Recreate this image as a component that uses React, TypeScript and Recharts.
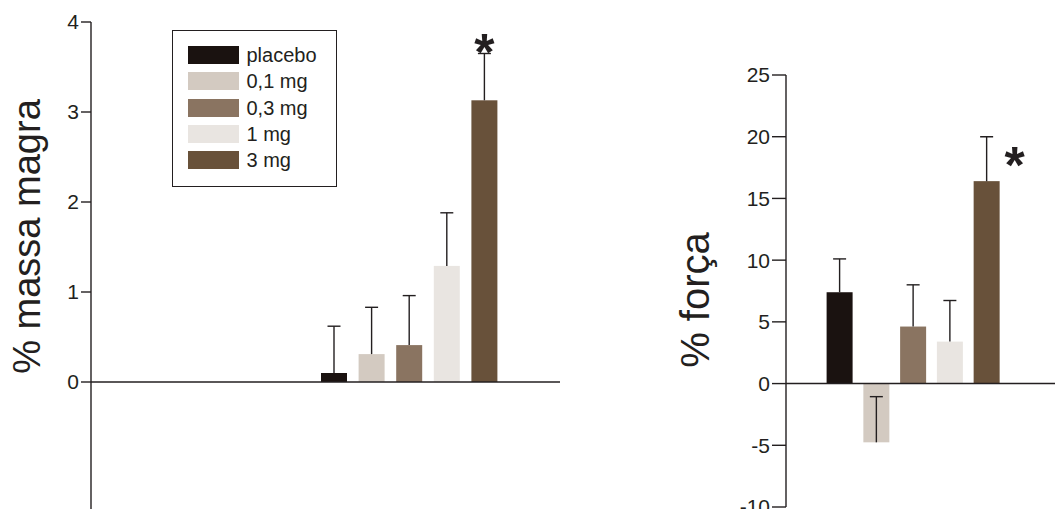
import React from 'react';
import {
  Bar,
  BarChart,
  Cell,
  Legend,
  ReferenceLine,
  XAxis,
  YAxis,
} from 'recharts';

const doses = ['placebo', '0,1 mg', '0,3 mg', '1 mg', '3 mg'];
const doseColors = ['#1a1210', '#d3cac1', '#8a7461', '#e9e5e1', '#68513a'];

// % massa magra (mean, upward error)
const leanMass = [0.1, 0.31, 0.41, 1.29, 3.13];
const leanMassErr = [0.52, 0.52, 0.55, 0.59, 0.52];
const leanTicks = [0, 1, 2, 3, 4];

// % força (mean, upward error)
const strength = [7.4, -4.76, 4.62, 3.4, 16.4];
const strengthErr = [2.7, 3.7, 3.38, 3.33, 3.6];
const strengthTicks = [-10, -5, 0, 5, 10, 15, 20, 25];

const significance = ['', '', '', '', '*'];

const ink = '#231f20';
const font = '"Liberation Sans", Arial, Helvetica, sans-serif';

const leanData = doses.map((dose, i) => ({
  dose,
  value: leanMass[i],
  err: leanMassErr[i],
  sig: significance[i],
}));

const strengthData = doses.map((dose, i) => ({
  dose,
  value: strength[i],
  err: strengthErr[i],
  sig: significance[i],
}));

// bar + one-sided error whisker + significance mark
const makeBarShape = (starSide: 'top' | 'right') => (props: any) => {
  const { x, y, width, height, fill, payload, index } = props;
  const v = payload.value;
  const top = Math.min(y, y + height);
  const bottom = Math.max(y, y + height);
  const end = v >= 0 ? top : bottom;
  const pxPerUnit = Math.abs(height) / Math.abs(v || 1);
  const errEnd = end - payload.err * pxPerUnit;
  const cx = x + width / 2;
  return (
    <g>
      <rect
        x={x}
        y={top}
        width={width}
        height={bottom - top}
        fill={fill || doseColors[index]}
      />
      <line x1={cx} x2={cx} y1={end} y2={errEnd} stroke={ink} strokeWidth={1.4} />
      <line
        x1={cx - 6.5}
        x2={cx + 6.5}
        y1={errEnd}
        y2={errEnd}
        stroke={ink}
        strokeWidth={1.4}
      />
      {payload.sig && (
        <text
          x={starSide === 'top' ? cx : cx + 28}
          y={starSide === 'top' ? errEnd + 16 : errEnd + 46}
          textAnchor="middle"
          fontSize={52}
          fontWeight="bold"
          fontFamily={font}
          fill={ink}
        >
          {payload.sig}
        </text>
      )}
    </g>
  );
};

const renderLegend = () => (
  <div
    style={{
      width: 165,
      height: 157,
      boxSizing: 'border-box',
      border: `1.5px solid ${ink}`,
      padding: '11px 0 0 14.5px',
      fontFamily: font,
      background: '#fff',
    }}
  >
    {doses.map((dose, i) => (
      <div
        key={dose}
        style={{ display: 'flex', alignItems: 'center', height: 26.3 }}
      >
        <span
          style={{
            display: 'inline-block',
            width: 51,
            height: 18,
            background: doseColors[i],
            marginRight: 8,
          }}
        />
        <span style={{ fontSize: 20, lineHeight: '20px', color: ink }}>
          {dose}
        </span>
      </div>
    ))}
  </div>
);

const axisLabel = (text: string, x: number, y: number, size: number) => () => (
  <text
    x={x}
    y={y}
    transform={`rotate(-90, ${x}, ${y})`}
    textAnchor="middle"
    fontSize={size}
    fontFamily={font}
    fill={ink}
  >
    {text}
  </text>
);

export default function App() {
  return (
    <div
      style={{
        position: 'fixed',
        left: 0,
        top: 0,
        width: 1055,
        height: 509,
        overflow: 'hidden',
        background: '#fff',
        fontFamily: font,
      }}
    >
      <div style={{ position: 'absolute', left: 0, top: 0 }}>
        <BarChart
          width={570}
          height={530}
          data={leanData}
          margin={{ top: 22, right: 10, bottom: 13, left: 0 }}
        >
          <XAxis
            dataKey="dose"
            hide
            height={0}
            padding={{ left: 224, right: 57 }}
          />
          <YAxis
            width={91}
            domain={[-1.5, 4]}
            ticks={leanTicks}
            interval={0}
            allowDataOverflow
            tickSize={10}
            tickMargin={2}
            axisLine={{ stroke: ink, strokeWidth: 1.4 }}
            tickLine={{ stroke: ink, strokeWidth: 1.4 }}
            tick={{ fill: ink, fontSize: 21, fontFamily: font }}
            label={axisLabel('% massa magra', 40, 236.5, 38)}
          />
          <ReferenceLine y={0} stroke={ink} strokeWidth={1.4} />
          <Bar
            dataKey="value"
            barSize={26}
            isAnimationActive={false}
            shape={makeBarShape('top')}
          >
            {leanData.map((d, i) => (
              <Cell key={d.dose} fill={doseColors[i]} />
            ))}
          </Bar>
          <Legend
            layout="vertical"
            align="center"
            verticalAlign="middle"
            wrapperStyle={{ left: 172, top: 30, width: 165, height: 157 }}
            content={renderLegend}
          />
        </BarChart>
      </div>

      <div style={{ position: 'absolute', left: 640, top: 0 }}>
        <BarChart
          width={415}
          height={530}
          data={strengthData}
          margin={{ top: 75, right: 0, bottom: 23, left: 0 }}
        >
          <XAxis
            dataKey="dose"
            hide
            height={0}
            padding={{ left: 35.6, right: 49.6 }}
          />
          <YAxis
            width={146}
            domain={[-10, 25]}
            ticks={strengthTicks}
            interval={0}
            allowDataOverflow
            tickSize={14}
            tickMargin={2}
            axisLine={{ stroke: ink, strokeWidth: 1.4 }}
            tickLine={{ stroke: ink, strokeWidth: 1.4 }}
            tick={{ fill: ink, fontSize: 21, fontFamily: font }}
            label={axisLabel('% força', 69, 300, 40)}
          />
          <ReferenceLine y={0} stroke={ink} strokeWidth={1.4} />
          <Bar
            dataKey="value"
            barSize={26}
            isAnimationActive={false}
            shape={makeBarShape('right')}
          >
            {strengthData.map((d, i) => (
              <Cell key={d.dose} fill={doseColors[i]} />
            ))}
          </Bar>
        </BarChart>
      </div>
    </div>
  );
}
